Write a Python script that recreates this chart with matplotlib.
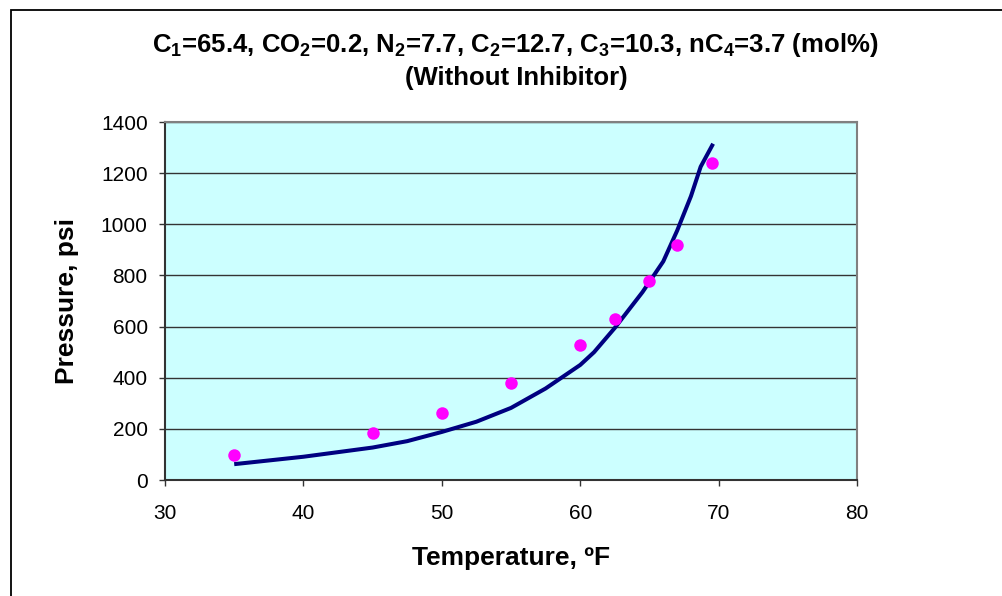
import matplotlib
matplotlib.use('Agg')
import matplotlib.pyplot as plt
from matplotlib.patches import Rectangle

plt.rcParams.update({
    'font.family': 'Liberation Sans',
    'mathtext.fontset': 'custom',
    'mathtext.rm': 'Liberation Sans:bold',
    'mathtext.it': 'Liberation Sans:bold',
    'mathtext.bf': 'Liberation Sans:bold',
})

# measured hydrate points
temp_exp = [35, 45, 50, 55, 60, 62.5, 65, 67, 69.5]
pres_exp = [98, 184, 262, 379, 528, 630, 778, 919, 1240]

# predicted hydrate curve
temp_calc = [35, 40, 45, 47.5, 50, 52.5, 55, 57.5, 60, 61, 62.5, 64.5, 66, 67, 68, 68.7, 69.6]
pres_calc = [62, 91, 127, 152, 188, 228, 282, 358, 450, 500, 595, 735, 855, 975, 1110, 1225, 1315]

title1 = r'C$_1$=65.4, CO$_2$=0.2, N$_2$=7.7, C$_2$=12.7, C$_3$=10.3, nC$_4$=3.7 (mol%)'
title2 = '(Without Inhibitor)'

fig = plt.figure(figsize=(10.03, 5.96), dpi=100)
ax = fig.add_axes([0.1645, 0.1946, 0.690, 0.6007])
ax.set_facecolor('#CCFFFF')

ax.plot(temp_calc, pres_calc, color='#000080', linewidth=2.9, solid_capstyle='butt', zorder=3)
ax.plot(temp_exp, pres_exp, 'o', color='#FF00FF', markersize=9, markeredgewidth=0, zorder=4)

ax.set_xlim(30, 80)
ax.set_ylim(0, 1400)
ax.set_xticks(range(30, 81, 10))
ax.set_yticks(range(0, 1401, 200))
ax.yaxis.grid(True, color='#333333', linewidth=1.0)
ax.set_axisbelow(True)
ax.tick_params(labelsize=15, length=4.5, width=1, color='#333333')
ax.tick_params(axis='x', pad=13)
ax.tick_params(axis='y', pad=8)

for side in ('top', 'right'):
    ax.spines[side].set_color('#808080')
    ax.spines[side].set_linewidth(1.5)
for side in ('left', 'bottom'):
    ax.spines[side].set_color('#333333')
    ax.spines[side].set_linewidth(1.5)

ax.set_xlabel('Temperature, ºF', fontsize=19, fontweight='bold', labelpad=16)
ax.set_ylabel('Pressure, psi', fontsize=19, fontweight='bold', labelpad=16)

fig.text(0.514, 0.924, title1, ha='center', va='center', fontsize=18.5, fontweight='bold')
fig.text(0.515, 0.869, title2, ha='center', va='center', fontsize=18.5, fontweight='bold')

# chart area border
fig.patches.append(Rectangle((0.0105, -0.2), 1.2, 1.2 - 0.0168, transform=fig.transFigure,
                             fill=False, edgecolor='black', linewidth=1.3))

fig.savefig('out.png', dpi=100)
